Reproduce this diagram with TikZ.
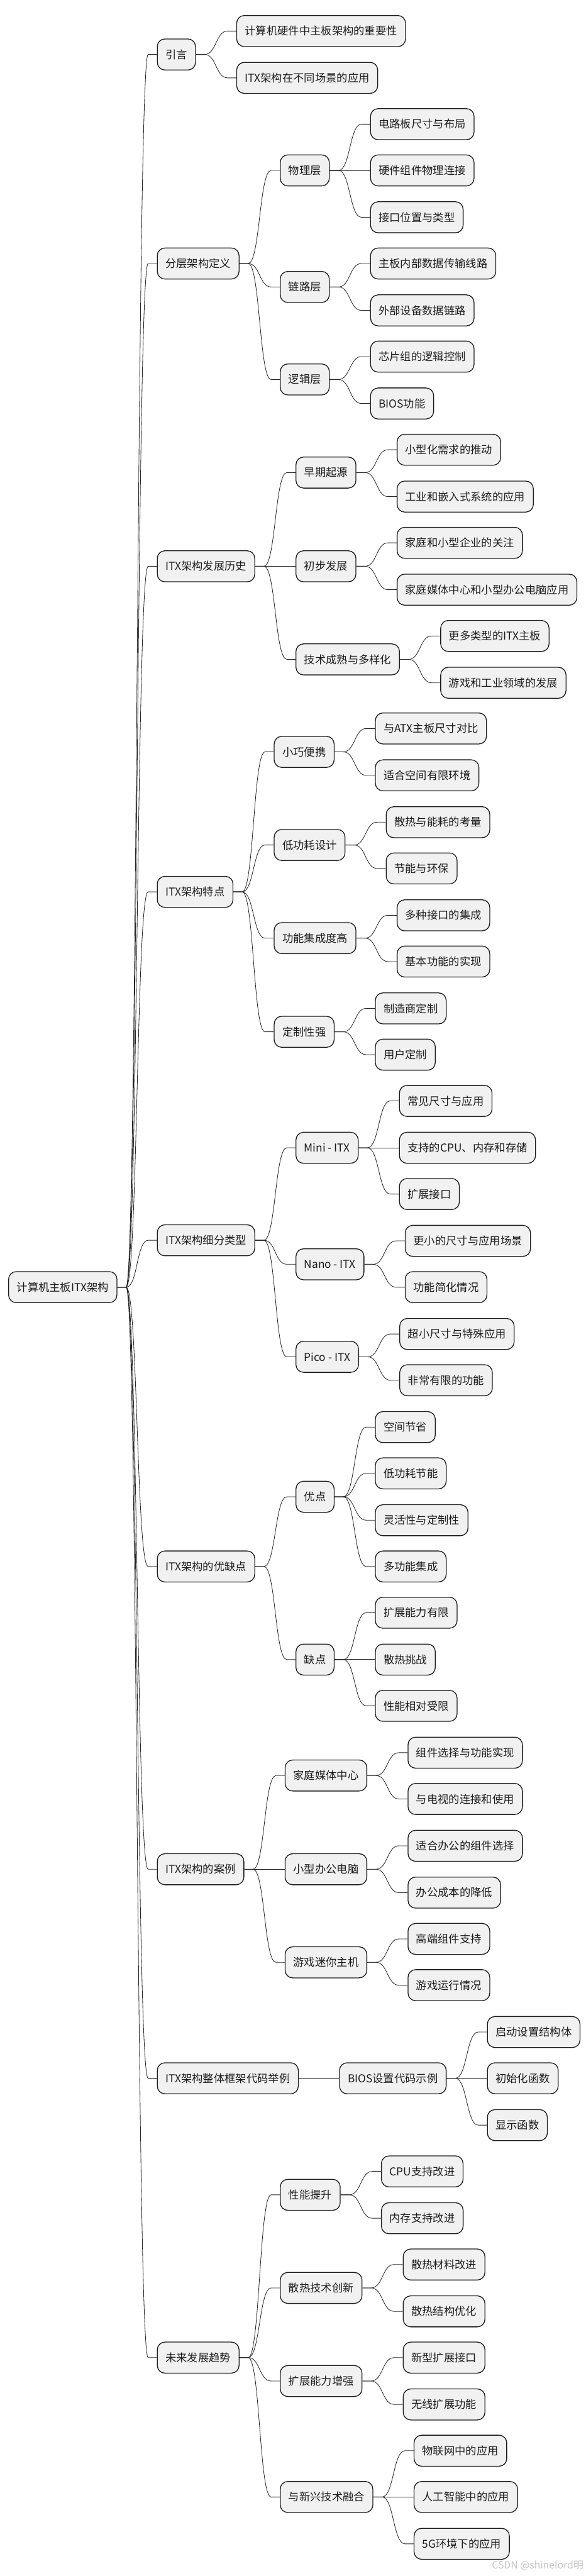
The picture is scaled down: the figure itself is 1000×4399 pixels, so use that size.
\documentclass[tikz,border=0pt]{standalone}
\usepackage{fontspec}
\newfontfamily\cjk{Noto Sans CJK SC}
\usetikzlibrary{positioning}
\definecolor{mapink}{HTML}{1C1C1C}
\definecolor{mapfill}{HTML}{F1F1F1}
\definecolor{mapline}{HTML}{262626}
\definecolor{mapmark}{HTML}{C4C4C4}
\tikzset{
  topic/.style={draw=mapink, fill=mapfill, line width=1.4pt, rounded corners=13pt, minimum height=53pt, inner xsep=14pt, anchor=west, text=mapink, font=\cjk\fontsize{18.6}{22}\selectfont},
  kid/.style={topic, xshift=69pt},
  link/.style={draw=mapline, line width=0.9pt},
}

\begin{document}
\begin{tikzpicture}[x=1pt,y=-1pt]
\useasboundingbox (0,0) rectangle (1000,4399);
\node[topic] (root) at (14,2198) {计算机主板ITX架构};

% intro
\node[topic] (intro) at (268,93) {引言};
\node[kid] (intro1) at (intro.east |- 0,53) {计算机硬件中主板架构的重要性};
\node[kid] (intro2) at (intro.east |- 0,133) {ITX架构在不同场景的应用};

% layers
\node[topic] (layer) at (268,450) {分层架构定义};
\node[kid] (phy) at (layer.east |- 0,291) {物理层};
\node[kid] (phy1) at (phy.east |- 0,212) {电路板尺寸与布局};
\node[kid] (phy2) at (phy.east |- 0,291) {硬件组件物理连接};
\node[kid] (phy3) at (phy.east |- 0,371) {接口位置与类型};
\node[kid] (lnk) at (layer.east |- 0,490) {链路层};
\node[kid] (lnk1) at (lnk.east |- 0,450) {主板内部数据传输线路};
\node[kid] (lnk2) at (lnk.east |- 0,530) {外部设备数据链路};
\node[kid] (lgc) at (layer.east |- 0,648) {逻辑层};
\node[kid] (lgc1) at (lgc.east |- 0,609) {芯片组的逻辑控制};
\node[kid] (lgc2) at (lgc.east |- 0,689) {BIOS功能};

% history
\node[topic] (hist) at (268,967) {ITX架构发展历史};
\node[kid] (early) at (hist.east |- 0,807) {早期起源};
\node[kid] (early1) at (early.east |- 0,768) {小型化需求的推动};
\node[kid] (early2) at (early.east |- 0,848) {工业和嵌入式系统的应用};
\node[kid] (grow) at (hist.east |- 0,967) {初步发展};
\node[kid] (grow1) at (grow.east |- 0,927) {家庭和小型企业的关注};
\node[kid] (grow2) at (grow.east |- 0,1007) {家庭媒体中心和小型办公电脑应用};
\node[kid] (mature) at (hist.east |- 0,1126) {技术成熟与多样化};
\node[kid] (mature1) at (mature.east |- 0,1086) {更多类型的ITX主板};
\node[kid] (mature2) at (mature.east |- 0,1166) {游戏和工业领域的发展};

% features
\node[topic] (feat) at (268,1523) {ITX架构特点};
\node[kid] (small) at (feat.east |- 0,1284) {小巧便携};
\node[kid] (small1) at (small.east |- 0,1244) {与ATX主板尺寸对比};
\node[kid] (small2) at (small.east |- 0,1324) {适合空间有限环境};
\node[kid] (power) at (feat.east |- 0,1443) {低功耗设计};
\node[kid] (power1) at (power.east |- 0,1404) {散热与能耗的考量};
\node[kid] (power2) at (power.east |- 0,1483) {节能与环保};
\node[kid] (integ) at (feat.east |- 0,1602) {功能集成度高};
\node[kid] (integ1) at (integ.east |- 0,1563) {多种接口的集成};
\node[kid] (integ2) at (integ.east |- 0,1642) {基本功能的实现};
\node[kid] (custom) at (feat.east |- 0,1762) {定制性强};
\node[kid] (custom1) at (custom.east |- 0,1722) {制造商定制};
\node[kid] (custom2) at (custom.east |- 0,1801) {用户定制};

% sub types
\node[topic] (types) at (268,2118) {ITX架构细分类型};
\node[kid] (mini) at (types.east |- 0,1960) {Mini - ITX};
\node[kid] (mini1) at (mini.east |- 0,1880) {常见尺寸与应用};
\node[kid] (mini2) at (mini.east |- 0,1960) {支持的CPU、内存和存储};
\node[kid] (mini3) at (mini.east |- 0,2039) {扩展接口};
\node[kid] (nano) at (types.east |- 0,2159) {Nano - ITX};
\node[kid] (nano1) at (nano.east |- 0,2119) {更小的尺寸与应用场景};
\node[kid] (nano2) at (nano.east |- 0,2198) {功能简化情况};
\node[kid] (pico) at (types.east |- 0,2317) {Pico - ITX};
\node[kid] (pico1) at (pico.east |- 0,2278) {超小尺寸与特殊应用};
\node[kid] (pico2) at (pico.east |- 0,2357) {非常有限的功能};

% pros and cons
\node[topic] (proscons) at (268,2675) {ITX架构的优缺点};
\node[kid] (pros) at (proscons.east |- 0,2556) {优点};
\node[kid] (pros1) at (pros.east |- 0,2437) {空间节省};
\node[kid] (pros2) at (pros.east |- 0,2516) {低功耗节能};
\node[kid] (pros3) at (pros.east |- 0,2596) {灵活性与定制性};
\node[kid] (pros4) at (pros.east |- 0,2675) {多功能集成};
\node[kid] (cons) at (proscons.east |- 0,2834) {缺点};
\node[kid] (cons1) at (cons.east |- 0,2754) {扩展能力有限};
\node[kid] (cons2) at (cons.east |- 0,2834) {散热挑战};
\node[kid] (cons3) at (cons.east |- 0,2913) {性能相对受限};

% cases
\node[topic] (cases) at (268,3192) {ITX架构的案例};
\node[kid] (media) at (cases.east |- 0,3032) {家庭媒体中心};
\node[kid] (media1) at (media.east |- 0,2993) {组件选择与功能实现};
\node[kid] (media2) at (media.east |- 0,3072) {与电视的连接和使用};
\node[kid] (office) at (cases.east |- 0,3192) {小型办公电脑};
\node[kid] (office1) at (office.east |- 0,3152) {适合办公的组件选择};
\node[kid] (office2) at (office.east |- 0,3232) {办公成本的降低};
\node[kid] (game) at (cases.east |- 0,3351) {游戏迷你主机};
\node[kid] (game1) at (game.east |- 0,3311) {高端组件支持};
\node[kid] (game2) at (game.east |- 0,3390) {游戏运行情况};

% code
\node[topic] (code) at (268,3549) {ITX架构整体框架代码举例};
\node[kid] (bios) at (code.east |- 0,3549) {BIOS设置代码示例};
\node[kid] (bios1) at (bios.east |- 0,3470) {启动设置结构体};
\node[kid] (bios2) at (bios.east |- 0,3549) {初始化函数};
\node[kid] (bios3) at (bios.east |- 0,3629) {显示函数};

% trends
\node[topic] (trend) at (268,4026) {未来发展趋势};
\node[kid] (perf) at (trend.east |- 0,3748) {性能提升};
\node[kid] (perf1) at (perf.east |- 0,3708) {CPU支持改进};
\node[kid] (perf2) at (perf.east |- 0,3788) {内存支持改进};
\node[kid] (cool) at (trend.east |- 0,3907) {散热技术创新};
\node[kid] (cool1) at (cool.east |- 0,3867) {散热材料改进};
\node[kid] (cool2) at (cool.east |- 0,3947) {散热结构优化};
\node[kid] (expand) at (trend.east |- 0,4066) {扩展能力增强};
\node[kid] (expand1) at (expand.east |- 0,4026) {新型扩展接口};
\node[kid] (expand2) at (expand.east |- 0,4106) {无线扩展功能};
\node[kid] (fuse) at (trend.east |- 0,4264) {与新兴技术融合};
\node[kid] (fuse1) at (fuse.east |- 0,4185) {物联网中的应用};
\node[kid] (fuse2) at (fuse.east |- 0,4264) {人工智能中的应用};
\node[kid] (fuse3) at (fuse.east |- 0,4344) {5G环境下的应用};

% branches
\foreach \p/\c in {root/intro, root/layer, root/hist, root/feat, root/types, root/proscons, root/cases, root/code, root/trend,
  intro/intro1, intro/intro2,
  layer/phy, layer/lnk, layer/lgc, phy/phy1, phy/phy2, phy/phy3, lnk/lnk1, lnk/lnk2, lgc/lgc1, lgc/lgc2,
  hist/early, hist/grow, hist/mature, early/early1, early/early2, grow/grow1, grow/grow2, mature/mature1, mature/mature2,
  feat/small, feat/power, feat/integ, feat/custom, small/small1, small/small2, power/power1, power/power2,
  integ/integ1, integ/integ2, custom/custom1, custom/custom2,
  types/mini, types/nano, types/pico, mini/mini1, mini/mini2, mini/mini3, nano/nano1, nano/nano2, pico/pico1, pico/pico2,
  proscons/pros, proscons/cons, pros/pros1, pros/pros2, pros/pros3, pros/pros4, cons/cons1, cons/cons2, cons/cons3,
  cases/media, cases/office, cases/game, media/media1, media/media2, office/office1, office/office2, game/game1, game/game2,
  code/bios, bios/bios1, bios/bios2, bios/bios3,
  trend/perf, trend/cool, trend/expand, trend/fuse, perf/perf1, perf/perf2, cool/cool1, cool/cool2,
  expand/expand1, expand/expand2, fuse/fuse1, fuse/fuse2, fuse/fuse3}
  \draw[link] (\p.east) -- ++(15,0) .. controls +(20,0) and +(-20,0) .. ([xshift=-15pt]\c.west) -- (\c.west);

\node[anchor=east, text=mapmark, font=\cjk\fontsize{17}{20}\selectfont] (mark) at (1000,4381) {CSDN @shinelord明};
\end{tikzpicture}
\end{document}
